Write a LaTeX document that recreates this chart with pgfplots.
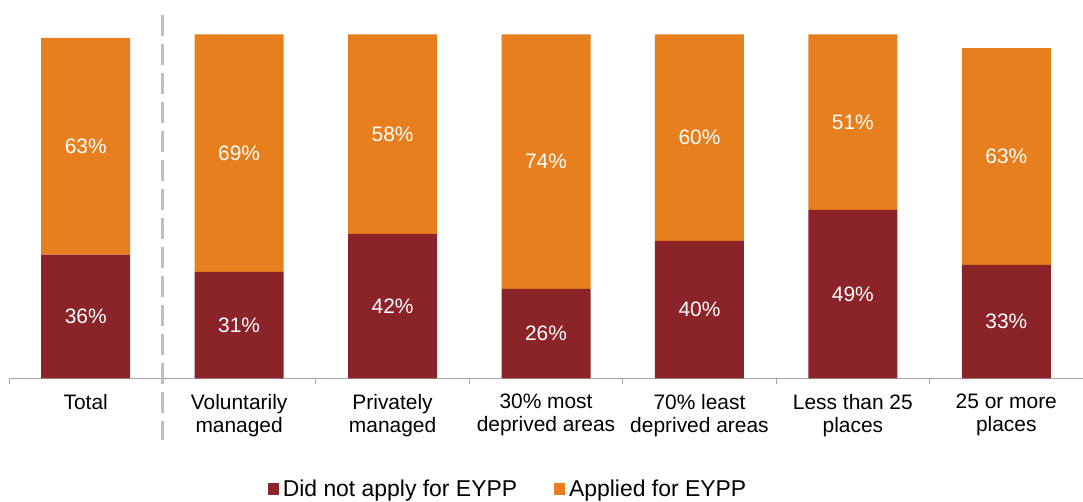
\documentclass[border=0pt]{standalone}
\usepackage{pgfplots}
\pgfplotsset{compat=1.18}
\usepackage{fontspec}
\setmainfont{Liberation Sans}
\definecolor{darkred}{HTML}{8B2429}
\definecolor{orng}{HTML}{E87F1E}
\definecolor{axgray}{HTML}{A6A6A6}
\definecolor{dashgray}{HTML}{BFBFBF}
\pgfplotsset{base/.style={
  at={(9bp,0)}, anchor=south west,
  x=153.43bp, y=3.44bp,
  xmin=-0.5, xmax=6.5, ymin=0, ymax=110,
  clip=false}}
\begin{document}
\begin{tikzpicture}
\useasboundingbox (0,-123bp) rectangle (1083bp,378.4bp);
\begin{axis}[
  base,
  ybar stacked, bar width=89bp,
  axis x line*=bottom, axis y line=none,
  x axis line style={draw=axgray, line width=1bp},
  xtick={0,...,6}, major tick length=0pt,
  xticklabels={{Total},{Voluntarily\\managed},{Privately\\managed},{30\% most\\deprived areas},{70\% least\\deprived areas},{Less than 25\\places},{25 or more\\places}},
  xticklabel style={align=center, font=\fontsize{21}{23.5}\selectfont, text=black, yshift=-12bp},
  extra x ticks={-0.5,0.5,...,6.5},
  extra x tick style={major tick length=6bp, tick align=outside, tick style={draw=axgray, line width=1bp}, xticklabel=\empty},
  legend columns=2,
  legend style={at={(0.4646,-0.293)}, anchor=center, draw=none, fill=none,
    font=\fontsize{23}{26}\selectfont,
    /tikz/every even column/.append style={column sep=35bp},
    nodes={inner sep=2bp}},
  legend image code/.code={\fill[#1, draw=none] (0bp,-6bp) rectangle (11bp,6bp); \path (13bp,0);},
]
\draw[dashgray, line width=2.5bp, dash pattern=on 21bp off 8bp] (axis cs:0.5,105.5) -- (axis cs:0.5,-18);
\addplot[fill=darkred, draw=none] coordinates {(0,36) (1,31) (2,42) (3,26) (4,40) (5,49) (6,33)};
\addplot[fill=orng, draw=none] coordinates {(0,63) (1,69) (2,58) (3,74) (4,60) (5,51) (6,63)};
\legend{Did not apply for EYPP, Applied for EYPP}
\end{axis}
\begin{axis}[
  base, hide axis,
  nodes near coords, point meta=explicit symbolic,
  every node near coord/.append style={anchor=center, text=white, font=\fontsize{21}{24}\selectfont},
]
\addplot[only marks, mark=none] table[meta=lab] {
x y lab
0 18 36\%
1 15.5 31\%
2 21 42\%
3 13 26\%
4 20 40\%
5 24.5 49\%
6 16.5 33\%
0 67.5 63\%
1 65.5 69\%
2 71 58\%
3 63 74\%
4 70 60\%
5 74.5 51\%
6 64.5 63\%
};
\end{axis}
\end{tikzpicture}
\end{document}
